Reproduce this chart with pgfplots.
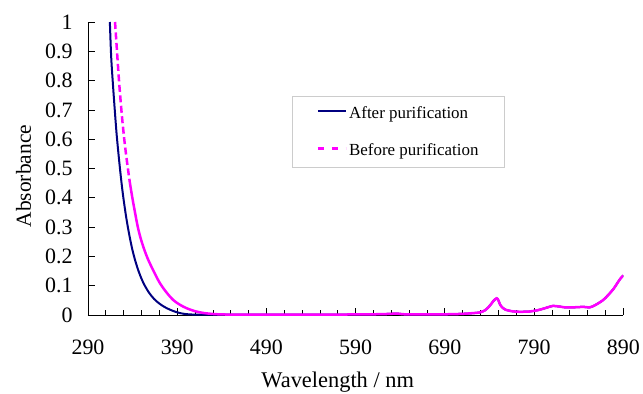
\documentclass[border=0pt]{standalone}
\usepackage{pgfplots}
\pgfplotsset{compat=1.18}
\usepackage{fontspec}
\setmainfont{Liberation Serif}
\definecolor{navyc}{RGB}{0,0,128}
\definecolor{magc}{RGB}{255,0,255}
\begin{document}
\begin{tikzpicture}
\path[use as bounding box] (-88bp,-79bp) rectangle (555bp,315bp);
\begin{axis}[
  at={(0,0)}, anchor=south west,
  scale only axis, width=535.3bp, height=293bp,
  xmin=290, xmax=890, ymin=0, ymax=1,
  axis x line=bottom, axis y line=left,
  axis line style={-, line width=1pt, black},
  xtick={290,390,490,590,690,790,890},
  minor x tick num=4,
  ytick={0,0.1,0.2,0.3,0.4,0.5,0.6,0.7,0.8,0.9,1},
  tick align=inside,
  major tick length=7bp, minor tick length=5bp,
  every tick/.style={black, line width=0.8pt},
  /pgf/number format/assume math mode=true,
  tick label style={font=\fontsize{22}{26}\selectfont, black},
  yticklabel style={/pgf/number format/fixed, /pgf/number format/precision=1, xshift=-12bp},
  xticklabel style={/pgf/number format/set thousands separator={}, yshift=-21bp},
  xlabel={Wavelength / nm},
  ylabel={Absorbance},
  xlabel style={at={(axis description cs:0.4665,0)}, anchor=base, yshift=-72bp, font=\fontsize{22.5}{26}\selectfont},
  ylabel style={at={(axis description cs:-0.1065,0.474)}, anchor=base, font=\fontsize{21.5}{25}\selectfont},
  legend style={at={(axis description cs:0.3817,0.7474)}, anchor=north west,
    draw=black!20, line width=0.7pt, font=\fontsize{17}{20}\selectfont,
    inner xsep=24bp, inner ysep=8bp, row sep=20bp,
    nodes={inner sep=2bp, yshift=-2bp}},
  legend cell align=left,
  clip=true,
]
\addplot[navyc, line width=2bp, smooth, tension=0.5,
  legend image code/.code={\draw[navyc, line width=2bp] (0bp,0bp) -- (28bp,0bp);}]
coordinates {
(314.5,1.0) (316,0.88) (318,0.785) (320,0.70) (322,0.62) (324,0.555) (326,0.495)
(328,0.44) (330,0.392) (333,0.33) (336,0.278) (339.5,0.226) (343,0.185) (347,0.147)
(352,0.110) (358,0.078) (364,0.055) (370,0.039) (376,0.027) (382,0.018) (388,0.011)
(394,0.006) (400,0.003) (408,0.0015) (420,0.001)
(440,0.001) (460,0.001) (500,0.001) (560,0.0015) (600,0.002) (620,0.003)
(630,0.004) (636,0.005) (642,0.003) (650,0.002) (680,0.002) (700,0.003)
(710,0.004) (720,0.006) (729.5,0.009) (735,0.016) (738.4,0.025) (742,0.038)
(744.4,0.048) (748,0.057) (750,0.050) (752,0.035) (755,0.024) (758,0.018)
(765,0.013) (773,0.011) (785,0.012) (795,0.017) (803,0.024) (811,0.031)
(818,0.029) (825,0.026) (832,0.026) (840,0.027) (845,0.028) (852,0.026)
(858,0.033) (867,0.050) (873,0.068) (879,0.089) (884,0.112) (887,0.125) (890,0.135)
};
\addlegendentry{After purification}
\addplot[magc, line width=2.5bp, dash pattern=on 7bp off 3.5bp, smooth, tension=0.5,
  legend image code/.code={\draw[magc, line width=2.5bp, dash pattern=on 6bp off 8bp] (0bp,0bp) -- (28bp,0bp);}]
coordinates {
(320.3,1.0) (322.5,0.9) (325,0.79) (328,0.68) (331,0.59) (334.1,0.514) (337,0.45)
};
\addlegendentry{Before purification}
\addplot[magc, line width=2.5bp, smooth, tension=0.5, forget plot]
coordinates {
(337,0.45) (340,0.395) (343,0.345) (345.7,0.302) (349,0.262) (353.1,0.223)
(357,0.192) (361.4,0.163) (366,0.135) (370.7,0.108) (378,0.077) (385.6,0.051)
(393,0.035) (400.6,0.023) (410,0.013) (419.3,0.007) (430,0.0035) (440,0.002)
(460,0.001) (500,0.001) (560,0.0015) (600,0.002) (620,0.003) (630,0.004)
(636,0.005) (642,0.003) (650,0.002) (680,0.002) (700,0.003) (710,0.004)
(720,0.006) (729.5,0.009) (735,0.016) (738.4,0.025) (742,0.038) (744.4,0.048)
(748,0.057) (750,0.050) (752,0.035) (755,0.024) (758,0.018) (765,0.013)
(773,0.011) (785,0.012) (795,0.017) (803,0.024) (811,0.031) (818,0.029)
(825,0.026) (832,0.026) (840,0.027) (845,0.028) (852,0.026) (858,0.033)
(867,0.050) (873,0.068) (879,0.089) (884,0.112) (887,0.125) (890,0.135)
};
\end{axis}
\end{tikzpicture}
\end{document}
